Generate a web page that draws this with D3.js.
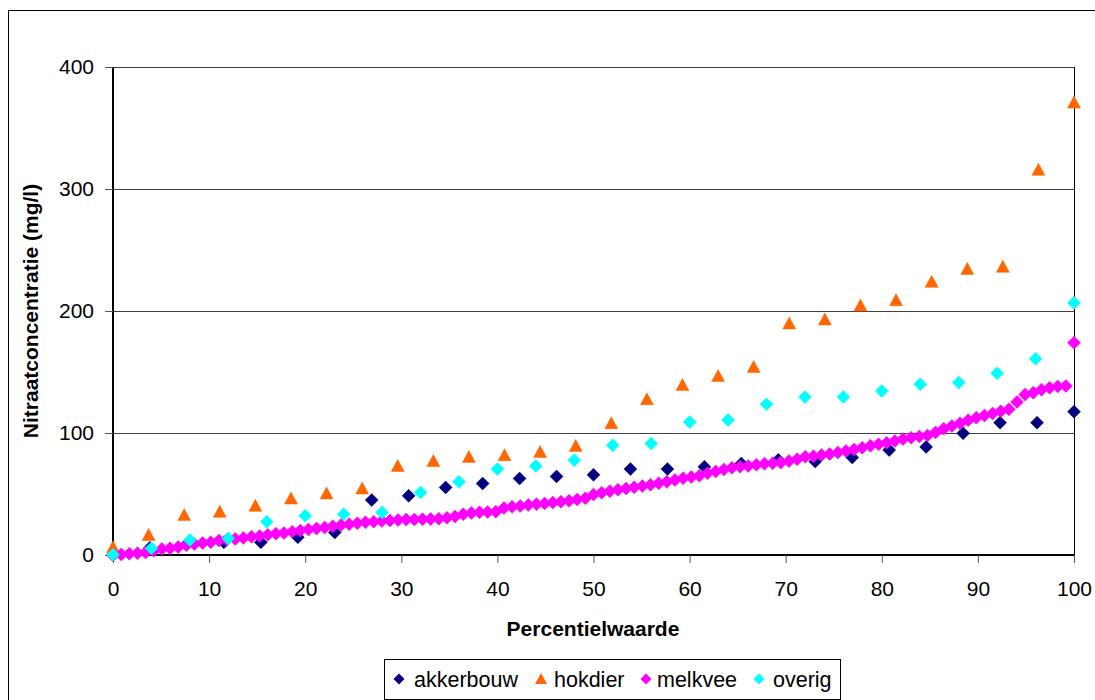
<!DOCTYPE html>
<html>
<head>
<meta charset="utf-8">
<script src="https://cdn.jsdelivr.net/npm/d3@7"></script>
<style>
  body { margin: 0; background: #fff; }
  svg { display: block; font-family: "Liberation Sans", Arial, sans-serif; }
</style>
</head>
<body>
<svg id="chart" width="1095" height="700"></svg>
<script>
// Nitrate concentration (mg/l) per sorted sample, by farm type
var seriesNames = ['akkerbouw', 'hokdier', 'melkvee', 'overig'];
var seriesColors = ['#000080', '#FF6600', '#FF00FF', '#00FFFF'];
var seriesShapes = ['diamond', 'triangle', 'diamond', 'diamond'];

var akkerbouw = [0, 6, 9, 10.4, 10.4, 14.5, 18.5, 45, 48.5, 55.4, 58.6, 62.7, 64.4, 65.7,
  70.4, 70.4, 72.3, 75, 78, 76.6, 80, 86, 88.6, 99.8, 108.5, 108.5, 117.5];

var hokdier = [6.3, 16.4, 32.7, 35.4, 40.3, 46.3, 50.5, 54.5, 73, 77, 80.4, 81.8, 84.5, 89.4,
  108, 127.6, 139.3, 146.7, 154, 189.8, 193, 204.5, 208.8, 223.9, 234.5, 236.2, 315.7, 370.8];

var melkvee = [0, 0.5, 1, 1.5, 2, 3.5, 5, 5.5, 6.5, 8, 9, 9.8, 10.5, 11.8, 12.5, 13.2, 14, 15,
  15.5, 16.5, 17.5, 18, 19, 20, 21, 21.8, 22.5, 23.5, 24.5, 25.3, 26, 26.8, 27.3, 27.8, 28.2,
  28.6, 29, 29.2, 29.4, 29.5, 29.8, 30.5, 31.5, 33.5, 34.5, 35, 35.2, 35.5, 38.5, 39.5, 40.2,
  41, 41.7, 42.3, 43, 43.7, 44.4, 45.5, 46.5, 49.5, 51, 52.3, 53.5, 54.5, 55.5, 56.5, 57.5,
  58.8, 60, 61.5, 63, 64, 65, 67, 68.5, 70, 71.5, 72.3, 73, 74, 74.8, 75.3, 75.8, 77, 78.5,
  80.5, 81, 82, 82.8, 84, 85.3, 86.5, 88, 89.5, 90.8, 92, 93.5, 95, 96.2, 97.2, 98, 100.5,
  103.5, 105.8, 108, 110.5, 112.5, 114.3, 116, 117.8, 119.4, 125.4, 131.5, 133, 135.5, 137,
  138.2, 138.5, 174];

var overig = [0.3, 5.5, 12.3, 13.6, 27.3, 32.2, 33.5, 34.9, 51.3, 60, 70.4, 73, 77.7, 90, 91.4,
  109, 110.7, 123.5, 129.5, 129.5, 134.4, 139.9, 141.3, 148.9, 160.9, 206.7];

var xTicks = [0, 10, 20, 30, 40, 50, 60, 70, 80, 90, 100];
var yTicks = [0, 100, 200, 300, 400];

var svg = d3.select('#chart');

// outer chart frame (runs off the right/bottom edge like the original)
svg.append('rect')
    .attr('x', 8.5).attr('y', 10.5)
    .attr('width', 1100).attr('height', 700)
    .attr('fill', 'none').attr('stroke', '#000').attr('stroke-width', 1);

var x = d3.scaleLinear().domain([0, 100]).range([113, 1074]);
var y = d3.scaleLinear().domain([0, 400]).range([555, 67]);

// gridlines
svg.append('g')
    .selectAll('line')
    .data(yTicks.filter(function (d) { return d > 0; }))
    .enter().append('line')
    .attr('x1', x(0)).attr('x2', x(100))
    .attr('y1', function (d) { return Math.round(y(d)) + 0.5; })
    .attr('y2', function (d) { return Math.round(y(d)) + 0.5; })
    .attr('stroke', '#404040').attr('stroke-width', 1);

// right border of plot area
svg.append('line')
    .attr('x1', x(100) + 0.5).attr('x2', x(100) + 0.5)
    .attr('y1', y(400)).attr('y2', y(0))
    .attr('stroke', '#000').attr('stroke-width', 1);

// axes
var xAxis = d3.axisBottom(x).tickValues(xTicks).tickSize(8).tickPadding(18);
var yAxis = d3.axisLeft(y).tickValues(yTicks).tickSize(8).tickPadding(11);

var gx = svg.append('g').attr('transform', 'translate(0,' + y(0) + ')').call(xAxis);
var gy = svg.append('g').attr('transform', 'translate(' + x(0) + ',0)').call(yAxis);

[gx, gy].forEach(function (g) {
    g.select('.domain').attr('stroke', '#000').attr('stroke-width', 2);
    g.selectAll('.tick line').attr('stroke', '#555');
    g.selectAll('.tick text')
        .attr('fill', '#000')
        .style('font-family', '"Liberation Sans", Arial, sans-serif')
        .style('font-size', '21px');
});
gx.select('.domain').attr('d', 'M' + x(0) + ',0H' + x(100));
gy.select('.domain').attr('d', 'M0,' + y(0) + 'V' + y(400));

// axis titles
svg.append('text')
    .attr('x', 593).attr('y', 636)
    .attr('text-anchor', 'middle')
    .style('font-size', '21px').style('font-weight', 'bold')
    .text('Percentielwaarde');

svg.append('text')
    .attr('transform', 'translate(38,311) rotate(-90)')
    .attr('text-anchor', 'middle')
    .style('font-size', '21px').style('font-weight', 'bold')
    .text('Nitraatconcentratie (mg/l)');

// marker paths
var diamond = 'M0,-6.5L6.5,0L0,6.5L-6.5,0Z';
var triangle = 'M0,-6.5L6.5,5.5L-6.5,5.5Z';

var allData = [akkerbouw, hokdier, melkvee, overig];

allData.forEach(function (values, s) {
    var n = values.length;
    svg.append('g')
        .selectAll('path')
        .data(values)
        .enter().append('path')
        .attr('d', seriesShapes[s] === 'triangle' ? triangle : diamond)
        .attr('transform', function (d, i) {
            return 'translate(' + x(i / (n - 1) * 100) + ',' + y(d) + ')';
        })
        .attr('fill', seriesColors[s])
        .attr('stroke', seriesColors[s])
        .attr('stroke-width', 0.5);
});

// legend
var legend = svg.append('g');
legend.append('rect')
    .attr('x', 384.5).attr('y', 659.5)
    .attr('width', 456).attr('height', 40)
    .attr('fill', '#fff').attr('stroke', '#000').attr('stroke-width', 1);

var legendMarkX = [399, 541, 646, 759];
var legendTextX = [414, 554, 657, 773];
seriesNames.forEach(function (name, s) {
    legend.append('path')
        .attr('d', seriesShapes[s] === 'triangle' ? 'M0,-6L6,5L-6,5Z' : 'M0,-5.5L5.5,0L0,5.5L-5.5,0Z')
        .attr('transform', 'translate(' + legendMarkX[s] + ',679)')
        .attr('fill', seriesColors[s]);
    legend.append('text')
        .attr('x', legendTextX[s]).attr('y', 686.5)
        .style('font-size', '21.5px')
        .text(name);
});
</script>
</body>
</html>
